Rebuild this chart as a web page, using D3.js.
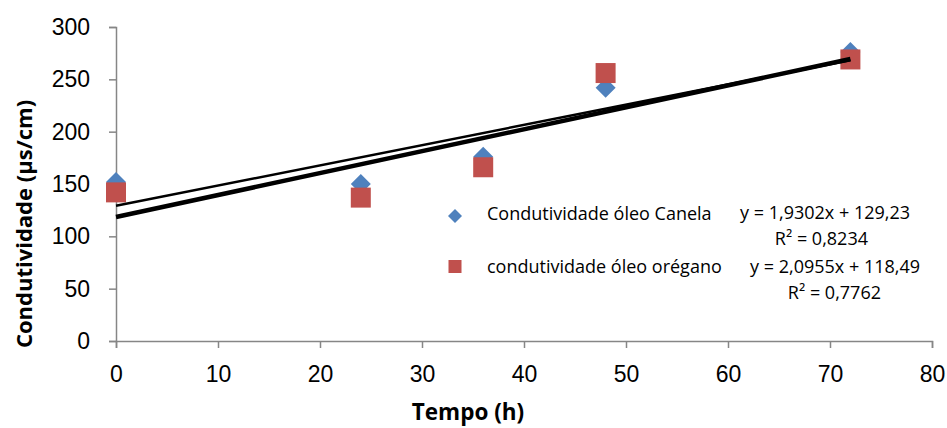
<!DOCTYPE html>
<html>
<head>
<meta charset="utf-8">
<script src="https://cdn.jsdelivr.net/npm/d3@7"></script>
<style>
  html, body { margin: 0; padding: 0; background: #fff; }
  svg { display: block; font-family: "Open Sans", "Liberation Sans", sans-serif; }
</style>
</head>
<body>
<svg id="chart" width="947" height="428"></svg>
<script>
// Time (h) of each measurement
const tempo = [0, 24, 36, 48, 72];
// Conductivity readings (µs/cm)
const canela = [152, 150, 176, 242, 276];
const oregano = [142, 137, 166, 256, 269];
// Linear trend lines: [slope, intercept]
const trendCanela = [1.9302, 129.23];
const trendOregano = [2.0955, 118.49];
// Tick values
const xTicks = [0, 10, 20, 30, 40, 50, 60, 70, 80];
const yTicks = [0, 50, 100, 150, 200, 250, 300];
// Legend / equation texts
const seriesNames = ["Condutividade óleo Canela", "condutividade óleo orégano"];
const equations = ["y = 1,9302x + 129,23", "y = 2,0955x + 118,49"];
const r2Labels = ["R² = 0,8234", "R² = 0,7762"];

const svg = d3.select("#chart");
const axisColor = "#868686";
const blue = "#4F81BD", red = "#C0504D";

const x = d3.scaleLinear().domain([0, 80]).range([116, 932]);
const y = d3.scaleLinear().domain([0, 300]).range([341, 27]);

// Axes
const xAxis = svg.append("g").attr("transform", `translate(0,${y(0)})`)
  .call(d3.axisBottom(x).tickValues(xTicks).tickSize(7).tickPadding(18).tickFormat(d3.format("d")));
const yAxis = svg.append("g").attr("transform", `translate(${x(0)},0)`)
  .call(d3.axisLeft(y).tickValues(yTicks).tickSize(7).tickPadding(19).tickFormat(d3.format("d")));
[xAxis, yAxis].forEach(g => {
  g.select(".domain").attr("stroke", axisColor).attr("stroke-width", 1.5);
  g.selectAll(".tick line").attr("stroke", axisColor).attr("stroke-width", 1.5);
  g.selectAll(".tick text").attr("fill", "#000").style("font-size", "23px")
    .style("font-family", "'Liberation Sans', Arial, sans-serif");
});
xAxis.selectAll(".tick text").attr("y", 25).attr("dy", "0.71em");

// Axis titles
svg.append("text").attr("x", 468).attr("y", 420).attr("text-anchor", "middle")
  .style("font-size", "22.5px").style("font-weight", "bold").text("Tempo (h)");
svg.append("text").attr("transform", "translate(32,224) rotate(-90)").attr("text-anchor", "middle")
  .style("font-size", "22px").style("font-weight", "bold").text("Condutividade (µs/cm)");

// Markers: diamonds for Canela, squares for orégano
const dHalf = 10;
svg.append("g").selectAll("path").data(tempo.map((t, i) => [t, canela[i]])).join("path")
  .attr("d", `M0,${-dHalf}L${dHalf},0L0,${dHalf}L${-dHalf},0Z`)
  .attr("transform", d => `translate(${x(d[0])},${y(d[1])})`)
  .attr("fill", blue);
svg.append("g").selectAll("rect").data(tempo.map((t, i) => [t, oregano[i]])).join("rect")
  .attr("x", d => x(d[0]) - 10).attr("y", d => y(d[1]) - 10)
  .attr("width", 20).attr("height", 20).attr("fill", red);

// Trend lines, drawn over the markers
const trendLine = (tr, w) => {
  svg.append("line")
    .attr("x1", x(0)).attr("y1", y(tr[1]))
    .attr("x2", x(72)).attr("y2", y(tr[0] * 72 + tr[1]))
    .attr("stroke", "#000").attr("stroke-width", w);
};
trendLine(trendCanela, 2.5);
trendLine(trendOregano, 4.5);

// Legend
const lg = svg.append("g").style("font-size", "18px");
lg.append("path").attr("d", "M455,209L462,216L455,223L448,216Z").attr("fill", blue);
lg.append("rect").attr("x", 448.5).attr("y", 260).attr("width", 13).attr("height", 13).attr("fill", red);
lg.append("text").attr("x", 487).attr("y", 220).text(seriesNames[0]);
lg.append("text").attr("x", 487).attr("y", 273).text(seriesNames[1]);

// Regression equations
lg.append("text").attr("x", 910).attr("y", 219).attr("text-anchor", "end").text(equations[0]);
lg.append("text").attr("x", 868).attr("y", 245).attr("text-anchor", "end").text(r2Labels[0]);
lg.append("text").attr("x", 920).attr("y", 273).attr("text-anchor", "end").text(equations[1]);
lg.append("text").attr("x", 881).attr("y", 299).attr("text-anchor", "end").text(r2Labels[1]);
</script>
</body>
</html>
